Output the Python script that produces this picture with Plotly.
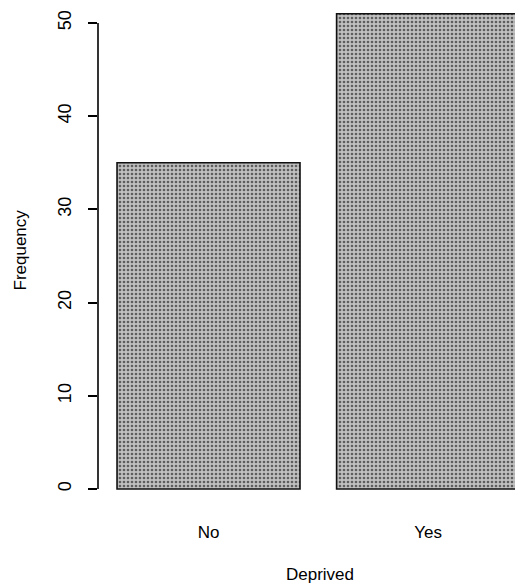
import plotly.graph_objects as go

categories = ["No", "Yes"]
frequencies = [35, 51]
bar_centers = [0.7, 1.9]
y_ticks = [0, 10, 20, 30, 40, 50]

fig = go.Figure()
fig.add_trace(go.Bar(
    x=bar_centers, y=frequencies, width=[1.0, 1.0],
    marker=dict(
        color="#b0b0b0",
        line=dict(color="#111111", width=1.6),
        pattern=dict(shape=".", fgcolor="#5e5e5e", bgcolor="#c0c0c0", size=4, solidity=0.35, fillmode="replace"),
    ),
    showlegend=False,
))

fig.update_layout(
    width=515, height=584,
    margin=dict(l=98, r=0, t=0, b=84),
    plot_bgcolor="white", paper_bgcolor="white",
    font=dict(family="Liberation Sans, Arial, sans-serif", size=17, color="black"),
    xaxis=dict(
        range=[0.096, 2.375], tickmode="array", tickvals=bar_centers, ticktext=categories,
        showgrid=False, zeroline=False, showline=False, ticks="", ticklabelstandoff=20,
        tickfont=dict(color="black"),
    ),
    yaxis=dict(
        range=[-1.18, 52.47], tickmode="array", tickvals=y_ticks,
        showgrid=False, zeroline=False, showline=False,
        ticks="outside", ticklen=9, tickwidth=1.5, tickcolor="black",
        tickangle=-90, ticklabelstandoff=10, tickfont=dict(color="black", size=18),
    ),
    shapes=[dict(type="line", xref="paper", yref="y", x0=0, x1=0, y0=0, y1=50,
                 line=dict(color="black", width=1.6))],
    annotations=[
        dict(text="Frequency", xref="paper", yref="paper", x=0, y=0.5, xshift=-90,
             textangle=-90, showarrow=False, font=dict(size=17, color="black")),
        dict(text="Deprived", xref="paper", yref="paper", x=0.533, y=0, yshift=-86,
             showarrow=False, font=dict(size=17, color="black")),
    ],
)

fig.write_html("out.html")
